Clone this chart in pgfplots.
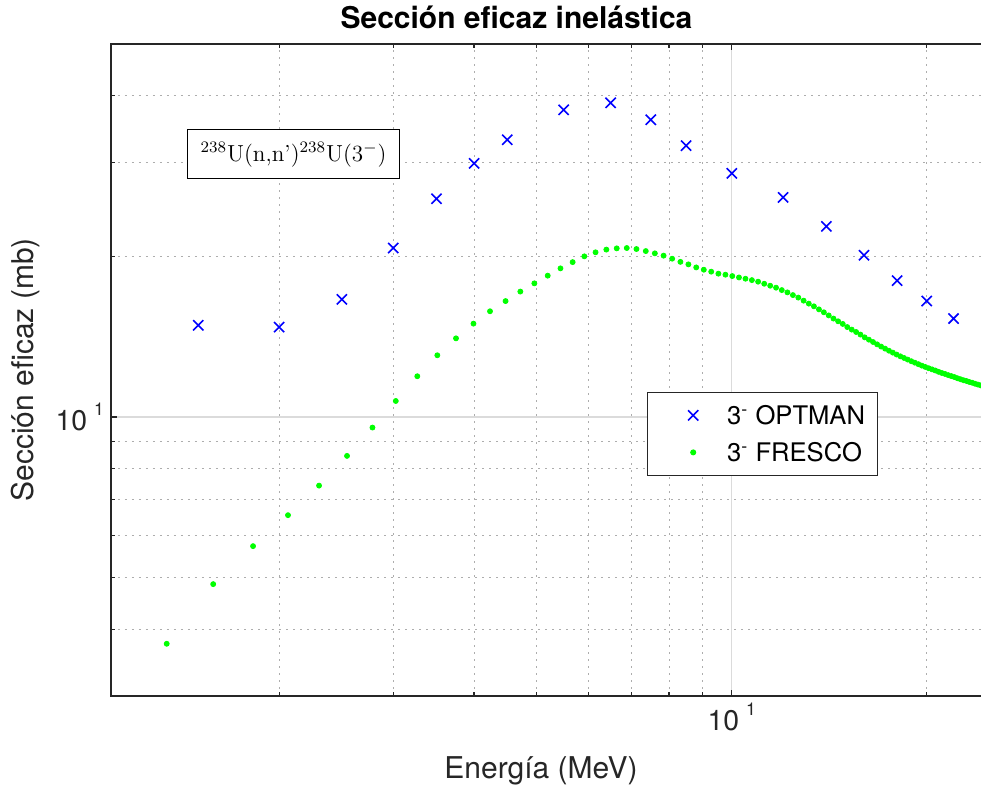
\documentclass[border=0pt]{standalone}
\usepackage{pgfplots}
\pgfplotsset{compat=1.18}
\usepackage{fontspec}
\setsansfont{TeX Gyre Heros}

\definecolor{axisgray}{rgb}{0.15,0.15,0.15}
\newcommand{\tenpow}{10\hspace{3.5pt}\raisebox{7.5pt}{\fontsize{8.8}{10}\selectfont 1}}

\begin{document}
\begin{tikzpicture}
\useasboundingbox (-55.5pt,-48pt) rectangle (435pt,348pt);
\fill[white] (-55.5pt,-48pt) rectangle (435pt,348pt);
\begin{axis}[
  at={(0pt,0pt)}, anchor=south west,
  scale only axis, width=439.25pt, height=326pt,
  xmode=log, ymode=log,
  xmin=1.1, xmax=25, ymin=3, ymax=50,
  xtick={10}, xticklabels={\tenpow},
  ytick={10}, yticklabels={\tenpow},
  minor xtick={2,3,4,5,6,7,8,9,20},
  minor ytick={4,5,6,7,8,9,20,30,40},
  grid=both,
  major grid style={color=black!14, line width=0.6pt},
  minor grid style={color=black!32, line width=0.5pt, dash pattern=on 1pt off 2.5pt},
  tick align=inside,
  major tick length=3pt, minor tick length=2pt,
  axis line style={color=axisgray, line width=0.6pt},
  every tick/.style={color=axisgray, line width=0.6pt},
  ticklabel style={font=\sffamily\fontsize{14.2}{16}\selectfont, color=axisgray},
  every axis title shift=0pt,
  title={Sección eficaz inelástica},
  title style={at={(axis description cs:0.4616,1.023)}, anchor=base,
    font=\sffamily\bfseries\fontsize{15}{18}\selectfont},
  xlabel={Energía (MeV)},
  xlabel style={at={(axis description cs:0.4895,-0.1273)}, anchor=base,
    font=\sffamily\fontsize{15}{18}\selectfont, color=axisgray},
  ylabel={Sección eficaz (mb)},
  ylabel style={at={(axis description cs:-0.0877,0.5)}, anchor=base, rotate=0,
    font=\sffamily\fontsize{15}{18}\selectfont, color=axisgray},
  legend image code/.code={%
    \path[draw=none, fill=none] (-7pt,-3pt) rectangle (20pt,3pt);
    \draw[#1,mark repeat=2,mark phase=2] plot coordinates {(0pt,0pt) (10pt,0pt) (20pt,0pt)};},
  legend style={at={(axis description cs:0.6098,0.4667)}, anchor=north west,
    draw=axisgray, line width=0.5pt, fill=white,
    font=\sffamily\fontsize{12.8}{15}\selectfont,
    inner xsep=6pt, inner ysep=7pt, row sep=9.3pt, column sep=7pt,
    nodes={inner sep=0pt, text height=9.2pt, text depth=0pt}},
  legend cell align=left,
]

% OPTMAN calculation
\addplot[only marks, mark=x, mark size=3.6pt, color=blue, mark options={line width=0.8pt}]
coordinates {
  (1.5,14.85) (2,14.74) (2.5,16.61) (3,20.73) (3.5,25.64) (4,29.87)
  (4.5,33.08) (5.5,37.64) (6.5,38.80) (7.5,36.06) (8.5,32.24) (10,28.61)
  (12,25.79) (14,22.76) (16,20.09) (18,18.01) (20,16.49) (22,15.29)
};
\addlegendentry{3\textsuperscript{-} OPTMAN}

% FRESCO calculation
\addplot[only marks, mark=*, mark size=1.25pt, color=green, mark options={draw=none, fill=green}]
table {
E sigma
1.341 3.758
1.582 4.861
1.823 5.727
2.064 6.546
2.305 7.437
2.546 8.454
2.787 9.553
3.028 10.714
3.269 11.921
3.510 13.05
3.751 14.04
3.992 14.96
4.233 15.78
4.474 16.49
4.715 17.18
4.956 17.80
5.197 18.40
5.438 18.99
5.679 19.51
5.920 20.00
6.161 20.35
6.402 20.59
6.643 20.70
6.884 20.73
7.125 20.64
7.366 20.46
7.607 20.26
7.848 20.06
8.089 19.80
8.330 19.53
8.571 19.32
8.812 19.07
9.053 18.88
9.294 18.72
9.535 18.56
9.776 18.48
10.017 18.37
10.258 18.26
10.499 18.16
10.740 18.05
10.981 17.93
11.222 17.77
11.463 17.62
11.704 17.47
11.945 17.29
12.186 17.12
12.427 16.92
12.668 16.74
12.909 16.52
13.150 16.31
13.391 16.12
13.632 15.91
13.873 15.71
14.114 15.50
14.355 15.29
14.596 15.11
14.837 14.94
15.078 14.74
15.319 14.58
15.560 14.43
15.801 14.27
16.042 14.10
16.283 13.96
16.524 13.82
16.765 13.68
17.006 13.55
17.247 13.43
17.488 13.31
17.729 13.20
17.970 13.09
18.211 12.99
18.452 12.90
18.693 12.81
18.934 12.72
19.175 12.64
19.416 12.56
19.657 12.48
19.898 12.41
20.139 12.34
20.380 12.28
20.621 12.22
20.862 12.15
21.103 12.09
21.344 12.04
21.585 11.98
21.826 11.93
22.067 11.88
22.308 11.82
22.549 11.77
22.790 11.72
23.031 11.68
23.272 11.63
23.513 11.59
23.754 11.54
23.995 11.50
24.236 11.46
24.477 11.41
};
\addlegendentry{3\textsuperscript{-} FRESCO}

\node[draw=black, fill=white, line width=0.5pt, inner xsep=6.5pt,
      minimum height=24.5pt, font=\fontsize{11.6}{14}\selectfont]
  at (rel axis cs:0.2077,0.8305) {$^{238}$U(n,n')$^{238}$U(3$^-$)};
\end{axis}
\end{tikzpicture}
\end{document}
